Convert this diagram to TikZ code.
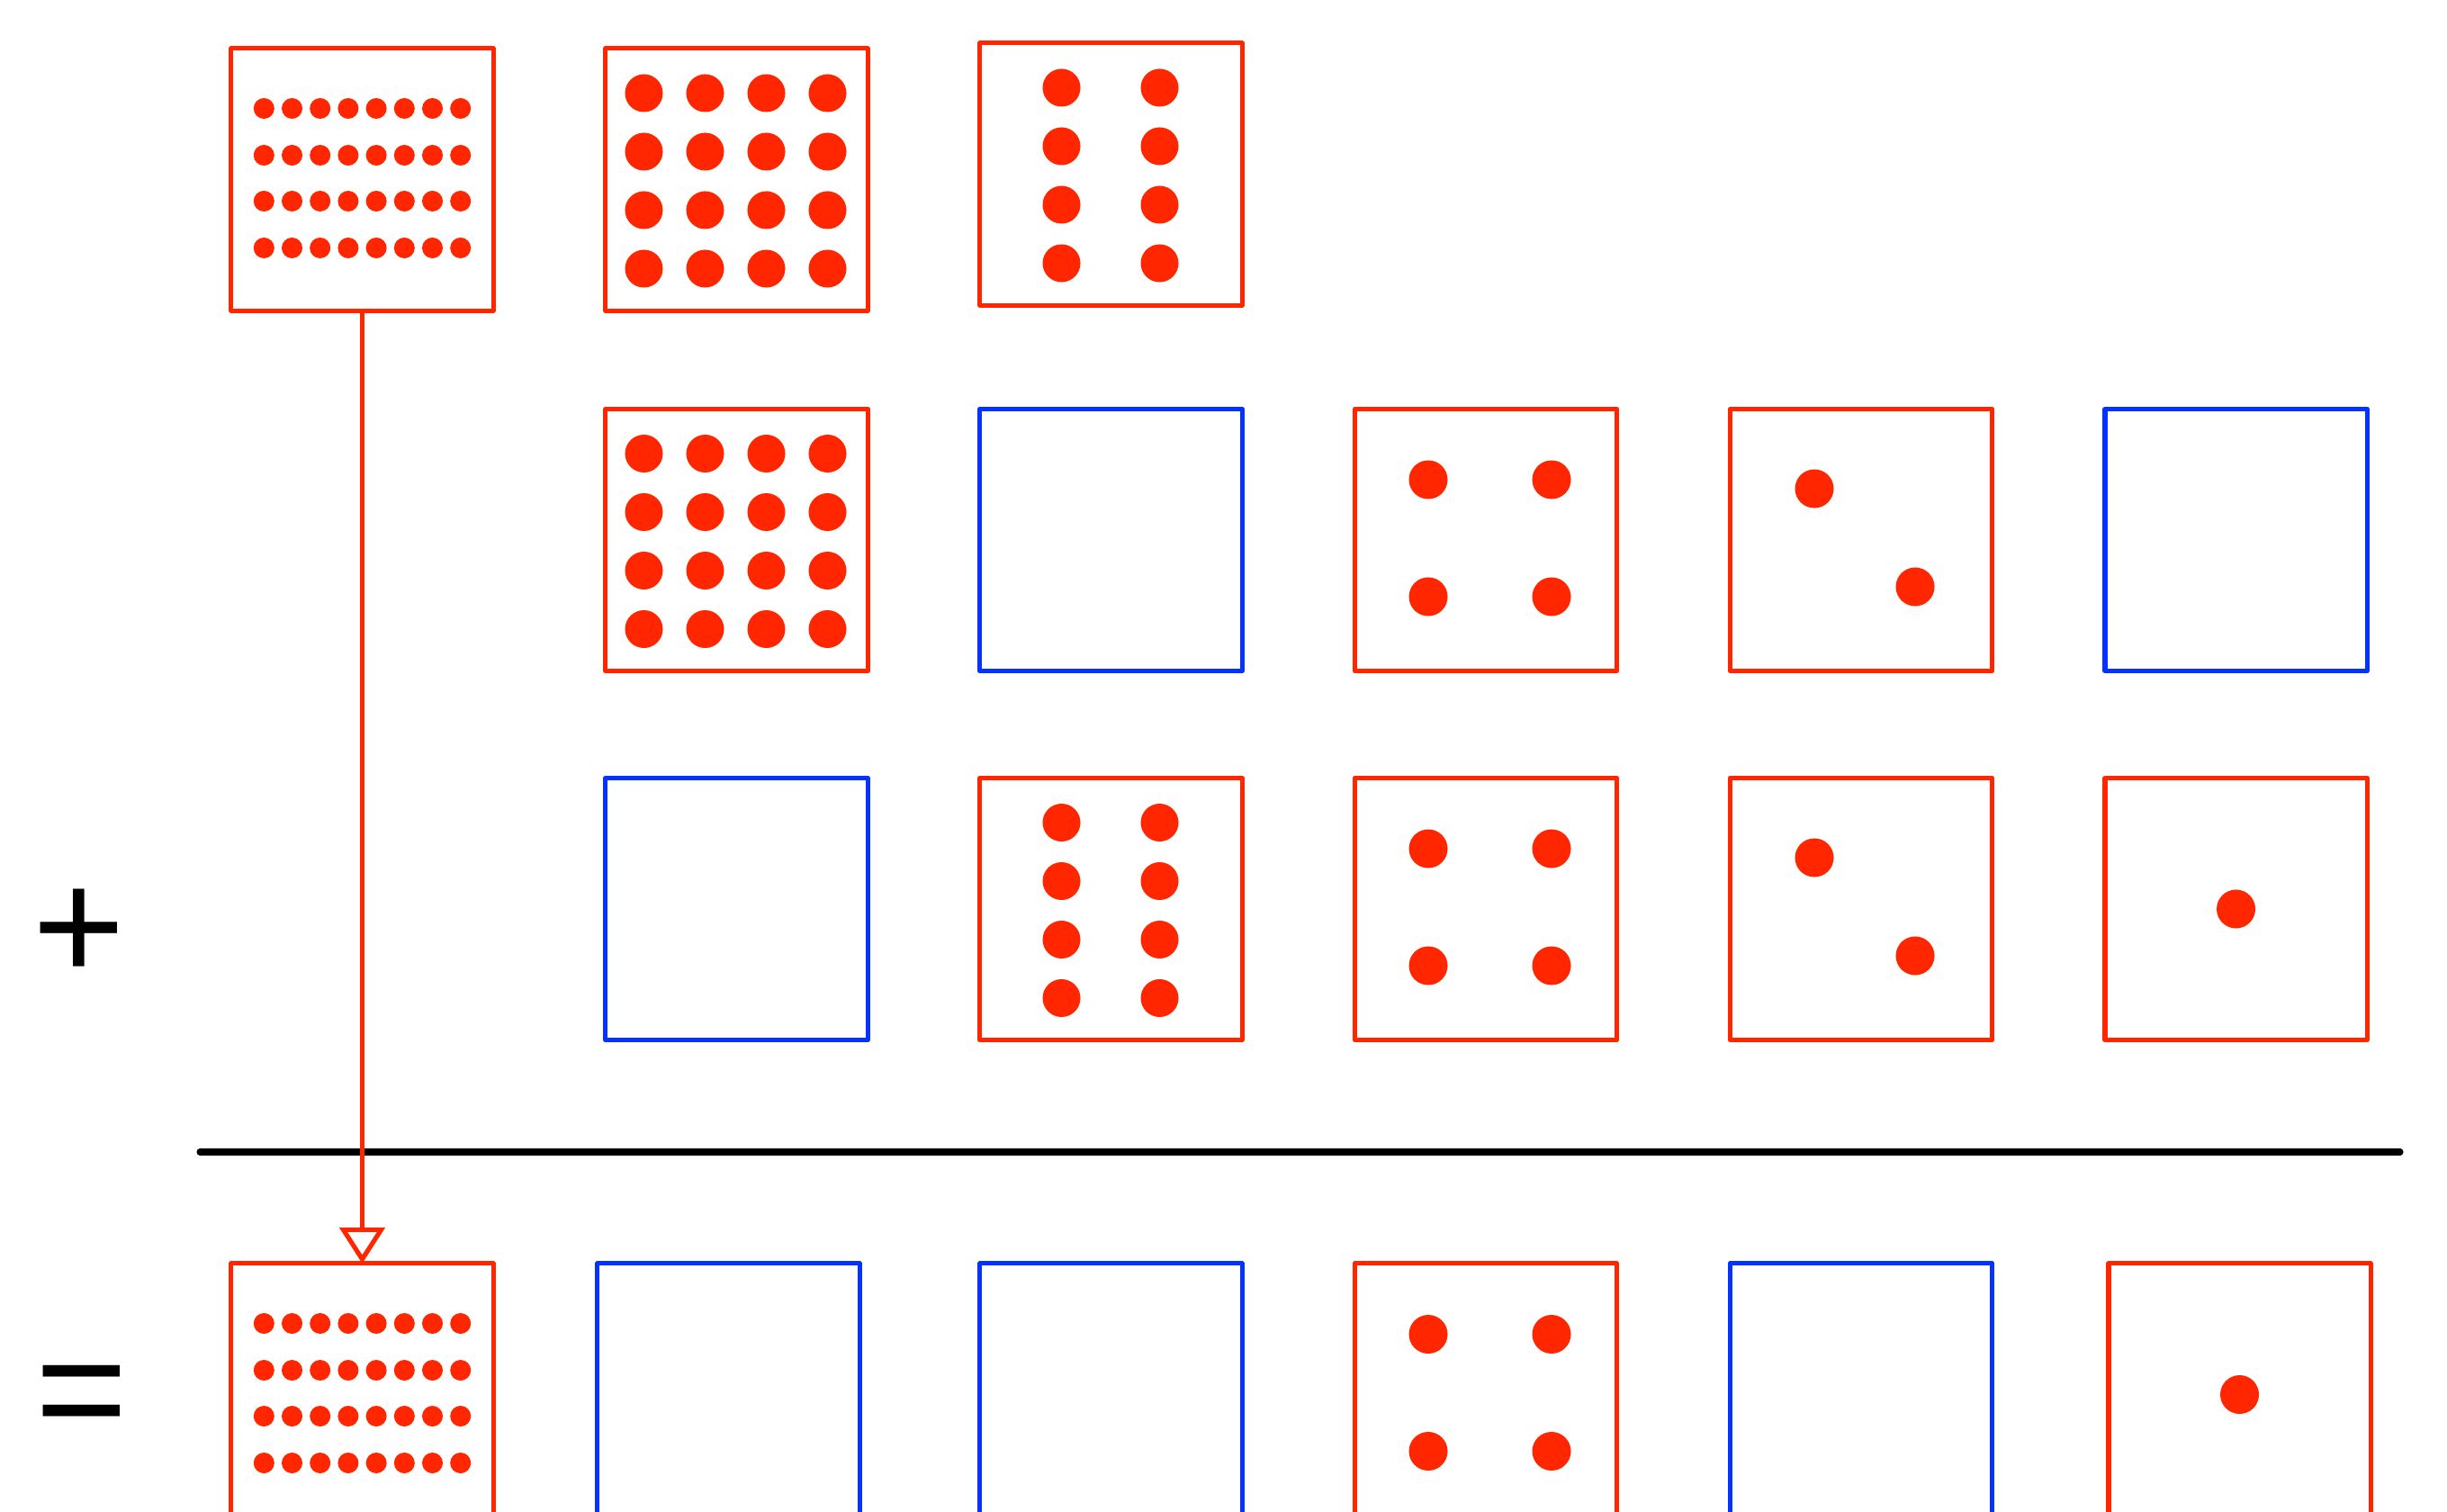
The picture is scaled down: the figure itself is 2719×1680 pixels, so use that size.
\documentclass[tikz,border=0pt]{standalone}
\usepackage{fontspec}
\setmainfont{Liberation Sans}
\usetikzlibrary{arrows.meta}
\definecolor{pipred}{HTML}{FF2600}
\definecolor{cellblue}{HTML}{0433FF}

\begin{document}
\begin{tikzpicture}[
    x=0.01cm, y=-0.01cm,
    cell/.style={rectangle, draw, line width=1.45pt, line join=round,
                 minimum size=2.91cm, inner sep=0pt, outer sep=0pt},
    onebox/.style={cell, draw=pipred},
    zerobox/.style={cell, draw=cellblue},
    pip/.style={fill=pipred},
    opsign/.style={font=\fontsize{50}{52}\selectfont, inner sep=0pt},
    carry/.style={draw=pipred, line width=1.45pt,
                  -{Triangle[open, length=0.4cm, width=0.5cm]}},
    sumline/.style={line width=2pt, line cap=round},
]
\useasboundingbox (0,0) rectangle (2719,1680);
\clip (0,0) rectangle (2719,1680);

% ---------- Row 0 ----------
\node[onebox]  (b00) at (402.5,199.5)  {};
\node[onebox]  (b01) at (818.5,199.5)  {};
\node[onebox]  (b02) at (1234.5,193.5) {};

% ---------- Row 1 ----------
\node[onebox]  (b11) at (818.5,600)  {};
\node[zerobox] (b12) at (1234.5,600) {};
\node[onebox]  (b13) at (1651,600)   {};
\node[onebox]  (b14) at (2068,600)   {};
\node[zerobox] (b15) at (2484.5,600) {};

% ---------- Row 2 ----------
\node[zerobox] (b21) at (818.5,1010)  {};
\node[onebox]  (b22) at (1234.5,1010) {};
\node[onebox]  (b23) at (1651,1010)   {};
\node[onebox]  (b24) at (2068,1010)   {};
\node[onebox]  (b25) at (2484.5,1010) {};

% ---------- Row 3 (result) ----------
\node[onebox]  (b30) at (402.5,1549.5)  {};
\node[zerobox] (b31) at (809.5,1549.5)  {};
\node[zerobox] (b32) at (1234.5,1549.5) {};
\node[onebox]  (b33) at (1651,1549.5)   {};
\node[zerobox] (b34) at (2068,1549.5)   {};
\node[onebox]  (b35) at (2488.5,1549.5) {};

% ---------- Signs ----------
\node[opsign] (plus)   at (88,1039)  {+};
\node[opsign] (equals) at (91,1560)  {=};

% ---------- Pips ----------
\foreach \b in {b00,b30}
  \foreach \dy in {-79,-27,24,76}
    \foreach \k in {0,...,7}
      \fill[pip] ([shift={({(\k-3.5)*31.2},\dy)}]\b.center) circle[radius=0.115cm];
\foreach \b in {b01,b11}
  \foreach \dy in {-96,-31,34,99}
    \foreach \dx in {-103,-35,33,101}
      \fill[pip] ([shift={(\dx,\dy)}]\b.center) circle[radius=0.21cm];
\foreach \b in {b02,b22}
  \foreach \dy in {-96,-31,34,99}
    \foreach \dx in {-55,54}
      \fill[pip] ([shift={(\dx,\dy)}]\b.center) circle[radius=0.21cm];
\foreach \b in {b13,b23,b33}
  \foreach \dy in {-67,63}
    \foreach \dx in {-64,73}
      \fill[pip] ([shift={(\dx,\dy)}]\b.center) circle[radius=0.215cm];
\foreach \b in {b14,b24} {
  \fill[pip] ([shift={(-52,-57)}]\b.center) circle[radius=0.215cm];
  \fill[pip] ([shift={(60,52)}]\b.center)   circle[radius=0.215cm];
}
\foreach \b in {b25,b35}
  \fill[pip] (\b.center) circle[radius=0.215cm];

% ---------- Sum line and carry ----------
\coordinate (barL) at (222,1280);
\coordinate (barR) at (2667,1280);
\draw[sumline] (barL) -- (barR);
\draw[carry] (b00.south) -- (b30.north);

\end{tikzpicture}
\end{document}
